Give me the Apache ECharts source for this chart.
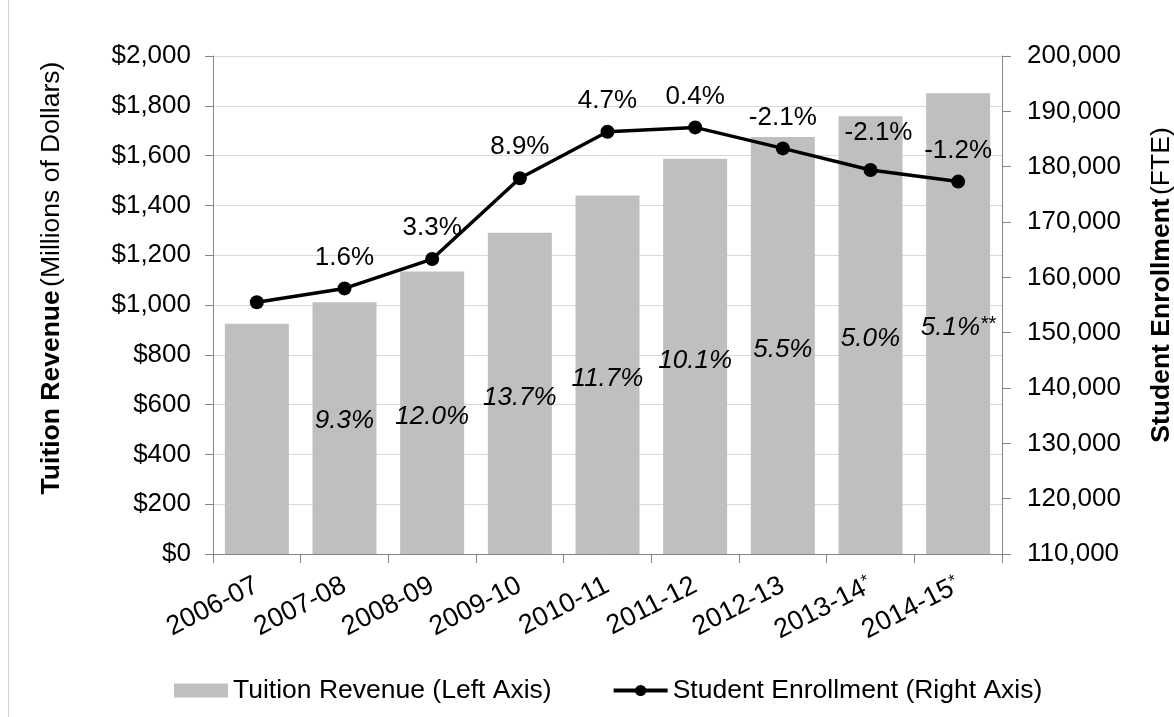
<!DOCTYPE html>
<html>
<head>
<meta charset="utf-8">
<title>Tuition Revenue and Student Enrollment</title>
<script src="https://cdn.jsdelivr.net/npm/echarts@6/dist/echarts.min.js"></script>
<style>
  html, body { margin: 0; padding: 0; background: #ffffff; }
  #chart { width: 1174px; height: 717px; }
</style>
</head>
<body>
<div id="chart"></div>
<script>
// Academic years shown on the category axis ("*" marks projected years)
const categories = ['2006-07', '2007-08', '2008-09', '2009-10', '2010-11', '2011-12', '2012-13', '2013-14*', '2014-15*'];

// Tuition revenue, millions of dollars (left axis)
const tuitionRevenue = [925, 1011, 1135, 1290, 1440, 1587, 1675, 1758, 1850];

// Student enrollment, FTE (right axis)
const studentEnrollment = [155500, 158000, 163300, 177900, 186300, 187100, 183300, 179400, 177300];

// Year-over-year growth labels
const revenueGrowth = ['', '9.3%', '12.0%', '13.7%', '11.7%', '10.1%', '5.5%', '5.0%', '5.1%**'];
const enrollmentGrowth = ['', '1.6%', '3.3%', '8.9%', '4.7%', '0.4%', '-2.1%', '-2.1%', '-1.2%'];

// Axis tick ranges
const revenueTicks = [0, 200, 400, 600, 800, 1000, 1200, 1400, 1600, 1800, 2000];
const enrollmentTicks = [110000, 120000, 130000, 140000, 150000, 160000, 170000, 180000, 190000, 200000];

const FONT = "'Liberation Sans', Arial, Helvetica, sans-serif";
const fmtThousands = v => String(v).replace(/\B(?=(\d{3})+(?!\d))/g, ',');

const chart = echarts.init(document.getElementById('chart'), null, { renderer: 'canvas' });

const barData = tuitionRevenue.map((v, i) => {
  const item = { value: v };
  if (i === 1) item.label = { offset: [0, -7] };
  return item;
});

const lineData = studentEnrollment.map((v, i) => {
  const item = { value: v };
  if (i === 7) item.label = { offset: [8, -6] };
  return item;
});

const option = {
  animation: false,
  backgroundColor: '#ffffff',
  textStyle: { fontFamily: FONT },
  grid: { left: 213, right: 172, top: 56, bottom: 163, containLabel: false },
  legend: {
    left: 169,
    top: 672,
    itemWidth: 54,
    itemHeight: 14,
    itemGap: 60,
    lineStyle: { width: 4 },
    textStyle: { fontSize: 26.5, color: '#000000', fontFamily: FONT },
    data: [
      { name: 'Tuition Revenue (Left Axis)', icon: 'rect' },
      { name: 'Student Enrollment (Right Axis)' }
    ]
  },
  xAxis: {
    type: 'category',
    data: categories,
    boundaryGap: true,
    axisLine: { lineStyle: { color: '#868686', width: 1 } },
    axisTick: { show: true, length: 9, lineStyle: { color: '#868686' } },
    axisLabel: {
      interval: 0,
      rotate: 27,
      margin: 30,
      color: '#000000',
      fontSize: 27,
      fontFamily: FONT,
      formatter: function (v) {
        if (v.endsWith('*')) return '{n|' + v.slice(0, -1) + '}{s|*}';
        return '{n|' + v + '}';
      },
      rich: {
        n: { fontSize: 27, fontFamily: FONT, color: '#000000' },
        s: { fontSize: 17, fontFamily: FONT, color: '#000000', verticalAlign: 'top', padding: [0, 0, 10, 0] }
      }
    }
  },
  yAxis: [
    {
      type: 'value',
      position: 'left',
      min: revenueTicks[0],
      max: revenueTicks[revenueTicks.length - 1],
      interval: revenueTicks[1] - revenueTicks[0],
      axisLine: { show: true, lineStyle: { color: '#868686', width: 1 } },
      axisTick: { show: true, length: 8, lineStyle: { color: '#868686' } },
      splitLine: { show: true, lineStyle: { color: '#d9d9d9', width: 1 } },
      axisLabel: {
        margin: 22,
        color: '#000000',
        fontSize: 26,
        fontFamily: FONT,
        formatter: v => '$' + fmtThousands(v)
      }
    },
    {
      type: 'value',
      position: 'right',
      min: enrollmentTicks[0],
      max: enrollmentTicks[enrollmentTicks.length - 1],
      interval: enrollmentTicks[1] - enrollmentTicks[0],
      axisLine: { show: true, lineStyle: { color: '#868686', width: 1 } },
      axisTick: { show: true, length: 9, lineStyle: { color: '#868686' } },
      splitLine: { show: false },
      axisLabel: {
        margin: 25,
        color: '#000000',
        fontSize: 26,
        fontFamily: FONT,
        formatter: v => fmtThousands(v)
      }
    }
  ],
  series: [
    {
      name: 'Tuition Revenue (Left Axis)',
      type: 'bar',
      yAxisIndex: 0,
      data: barData,
      barWidth: 64,
      itemStyle: { color: '#bfbfbf' },
      label: {
        show: true,
        position: 'inside',
        offset: [0, 4],
        formatter: function (p) {
          const t = revenueGrowth[p.dataIndex];
          if (!t) return '';
          if (t.endsWith('**')) return '{v|' + t.slice(0, -2) + '}{s|**}';
          return '{v|' + t + '}';
        },
        rich: {
          v: { fontSize: 26, fontStyle: 'italic', fontFamily: FONT, color: '#000000' },
          s: { fontSize: 20, fontStyle: 'italic', fontFamily: FONT, color: '#000000', verticalAlign: 'top' }
        }
      },
      z: 2
    },
    {
      name: 'Student Enrollment (Right Axis)',
      type: 'line',
      yAxisIndex: 1,
      data: lineData,
      symbol: 'circle',
      symbolSize: 14,
      itemStyle: { color: '#000000' },
      lineStyle: { color: '#000000', width: 3.5 },
      label: {
        show: true,
        position: 'top',
        distance: 11,
        color: '#000000',
        fontSize: 26,
        fontFamily: FONT,
        formatter: p => enrollmentGrowth[p.dataIndex]
      },
      z: 3
    }
  ],
  graphic: [
    {
      type: 'line',
      shape: { x1: 8.5, y1: 0, x2: 8.5, y2: 717 },
      style: { stroke: '#d0d0d0', lineWidth: 1 },
      silent: true
    },
    {
      type: 'text',
      x: 52,
      y: 278,
      rotation: Math.PI / 2,
      style: {
        text: '{b|Tuition Revenue} {n|(Millions of Dollars)}',
        align: 'center',
        verticalAlign: 'middle',
        textAlign: 'center',
        textVerticalAlign: 'middle',
        fill: '#000000',
        rich: {
          b: { fontSize: 26.5, fontWeight: 'bold', fontFamily: FONT, fill: '#000000', color: '#000000' },
          n: { fontSize: 26.5, fontFamily: FONT, fill: '#000000', color: '#000000' }
        }
      },
      silent: true
    },
    {
      type: 'text',
      x: 1162,
      y: 285,
      rotation: Math.PI / 2,
      style: {
        text: '{b|Student Enrollment} {n|(FTE)}',
        align: 'center',
        verticalAlign: 'middle',
        textAlign: 'center',
        textVerticalAlign: 'middle',
        fill: '#000000',
        rich: {
          b: { fontSize: 26.5, fontWeight: 'bold', fontFamily: FONT, fill: '#000000', color: '#000000' },
          n: { fontSize: 26.5, fontFamily: FONT, fill: '#000000', color: '#000000' }
        }
      },
      silent: true
    }
  ]
};

chart.setOption(option);
</script>
</body>
</html>
